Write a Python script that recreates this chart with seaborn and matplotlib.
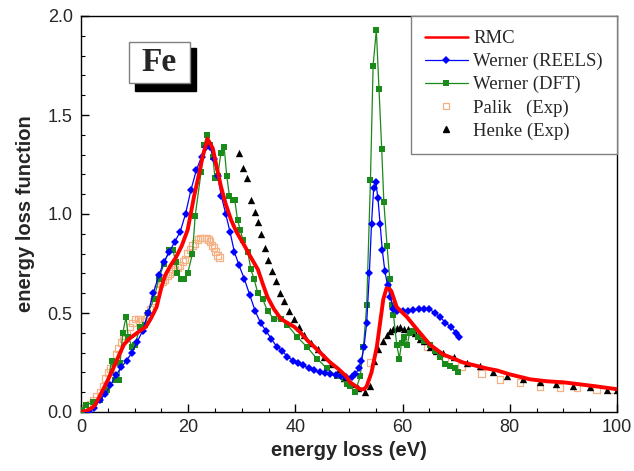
import matplotlib
matplotlib.use("Agg")
import matplotlib.pyplot as plt
import seaborn as sns
from matplotlib.lines import Line2D
from matplotlib.patches import Rectangle
from matplotlib.ticker import MultipleLocator, FormatStrFormatter
from matplotlib.font_manager import FontProperties

# ---------------- data ----------------
rmc_x = [0, 1, 2, 2.6, 3.5, 4.8, 6, 7.3, 8, 9, 10, 11, 12.1, 13, 14.1, 15, 15.7, 16.7,
         17.7, 18.8, 19.9, 21.1, 22, 22.7, 23.6, 24.6, 25.3, 26.1, 27, 28, 29, 30.5,
         31.5, 33, 34, 34.8, 36, 37.3, 38.5, 39.8, 41, 42.3, 43.5, 45, 46.5, 47.9, 49.5,
         50.2, 51, 52.1, 52.8, 53.3, 54.2, 55.2, 55.8, 56.4, 57.0, 57.6, 57.9, 58.9,
         60.8, 62.6, 65.1, 67.6, 69.5, 71.3, 75.7, 77.6, 80, 83.8, 87, 90, 93, 96, 100]
rmc_y = [0.0, 0.005, 0.02, 0.035, 0.08, 0.15, 0.22, 0.30, 0.34, 0.37, 0.39, 0.41, 0.43,
         0.47, 0.53, 0.63, 0.69, 0.74, 0.78, 0.84, 0.92, 1.09, 1.20, 1.29, 1.38, 1.33,
         1.24, 1.14, 1.05, 0.97, 0.91, 0.84, 0.79, 0.72, 0.64, 0.58, 0.52, 0.47, 0.45,
         0.43, 0.40, 0.36, 0.33, 0.29, 0.25, 0.22, 0.18, 0.15, 0.135, 0.115, 0.115, 0.13,
         0.20, 0.33, 0.45, 0.57, 0.625, 0.62, 0.61, 0.53, 0.48, 0.42, 0.34, 0.29, 0.27,
         0.25, 0.22, 0.21, 0.19, 0.165, 0.155, 0.15, 0.14, 0.13, 0.115]

reels_x = [1.5, 2.5, 3.5, 4.5, 5.5, 6.5, 7.5, 8.5, 9.5, 10.5, 11.5, 12.5, 13.5, 14.5,
           15.5, 16.5, 17.5, 18.5, 19.5, 20.5, 21.5, 22.5, 23.3, 24.0, 24.8, 25.5, 26.2,
           27.0, 27.8, 28.6, 29.5, 30.5, 31.5, 32.5, 33.5, 34.5, 35.5, 36.5, 37.5, 38.5,
           39.5, 40.5, 41.5, 42.5, 43.5, 44.5, 45.5, 46.5, 47.5, 48.5, 49.5, 50.5, 51.2,
           51.8, 52.3, 52.8, 53.3, 53.8, 54.2, 54.6, 55.0, 55.4, 55.8, 56.2, 56.7, 57.2,
           57.7, 58.3, 59.0, 60.0, 61.0, 62.0, 63.0, 64.0, 65.0, 66.0, 67.0, 68.0, 69.0,
           70.0, 70.6]
reels_y = [0.0, 0.02, 0.06, 0.09, 0.135, 0.185, 0.225, 0.26, 0.30, 0.355, 0.41, 0.50,
           0.60, 0.69, 0.76, 0.81, 0.86, 0.91, 1.00, 1.12, 1.22, 1.29, 1.34, 1.34, 1.28,
           1.19, 1.09, 1.00, 0.91, 0.81, 0.74, 0.67, 0.59, 0.51, 0.45, 0.41, 0.37, 0.33,
           0.31, 0.28, 0.26, 0.25, 0.235, 0.22, 0.21, 0.20, 0.195, 0.19, 0.185, 0.18,
           0.175, 0.175, 0.19, 0.22, 0.26, 0.33, 0.45, 0.70, 0.95, 1.13, 1.16, 1.08, 0.95,
           0.82, 0.71, 0.64, 0.58, 0.52, 0.51, 0.51, 0.51, 0.515, 0.52, 0.52, 0.52, 0.50,
           0.48, 0.45, 0.43, 0.40, 0.38]

dft_x = [0.1, 0.9, 2.3, 3.5, 4.8, 5.7, 6.3, 7.0, 7.3, 7.8, 8.4, 8.8, 9.5, 10.1, 11.0,
         12.0, 12.5, 13.6, 14.5, 15.5, 16.5, 17.1, 17.7, 18.0, 18.7, 19.3, 19.9, 20.8,
         21.3, 22.4, 23.0, 23.5, 24.1, 24.6, 25.0, 25.5, 26.1, 26.7, 27.2, 27.7, 28.3,
         28.7, 29.2, 29.7, 30.2, 31.1, 31.7, 32.3, 33.0, 33.9, 34.8, 36.0, 37.3, 38.5,
         40.3, 42.1, 44.0, 45.9, 47.8, 49.7, 50.2, 51.1, 52.1, 52.7, 53.3, 54.0, 54.5,
         55.1, 55.6, 56.1, 56.5, 57.1, 57.6, 58.0, 58.3, 58.9, 59.4, 59.8, 60.3, 60.9,
         61.3, 61.9, 62.8, 63.9, 65.1, 66.0, 67.0, 67.9, 68.8, 69.8, 70.4]
dft_y = [0.01, 0.035, 0.05, 0.06, 0.11, 0.26, 0.16, 0.16, 0.25, 0.40, 0.48, 0.38, 0.33,
         0.34, 0.43, 0.44, 0.50, 0.57, 0.67, 0.75, 0.82, 0.82, 0.76, 0.70, 0.67, 0.67,
         0.70, 0.80, 0.99, 1.21, 1.35, 1.40, 1.35, 1.29, 1.18, 1.19, 1.31, 1.34, 1.19,
         1.09, 1.07, 1.07, 0.97, 0.92, 0.87, 0.81, 0.72, 0.67, 0.60, 0.57, 0.51, 0.47,
         0.47, 0.44, 0.38, 0.33, 0.27, 0.22, 0.18, 0.14, 0.13, 0.10, 0.18, 0.33, 0.54,
         1.17, 1.75, 1.93, 1.63, 1.33, 1.06, 0.84, 0.67, 0.54, 0.49, 0.34, 0.27, 0.35,
         0.38, 0.34, 0.40, 0.41, 0.38, 0.36, 0.34, 0.31, 0.28, 0.24, 0.23, 0.22, 0.20]

palik_x = [0.4, 1.0, 1.7, 2.3, 2.9, 3.5, 4.1, 4.6, 5.0, 5.5, 6.0, 6.5, 7.0, 7.5, 7.9,
           8.5, 9.1, 9.6, 10.1, 10.6, 11.0, 11.5, 11.9, 12.4, 12.9, 13.4, 13.8, 14.3,
           14.7, 15.2, 15.7, 16.2, 16.6, 17.1, 17.5, 18.0, 18.5, 19.0, 19.4, 19.9, 20.3,
           20.8, 21.3, 21.8, 22.2, 22.6, 23.0, 23.4, 23.8, 24.1, 24.4, 24.8, 25.1, 25.5,
           25.8, 53.9, 64.6, 67.9, 71.0, 74.7, 78.2, 81.9, 85.6, 89.4, 92.5, 96.2, 99.0]
palik_y = [0.02, 0.03, 0.04, 0.06, 0.08, 0.10, 0.13, 0.17, 0.20, 0.22, 0.25, 0.29, 0.32,
           0.35, 0.37, 0.40, 0.43, 0.45, 0.47, 0.47, 0.47, 0.46, 0.46, 0.49, 0.52, 0.56,
           0.59, 0.62, 0.65, 0.66, 0.67, 0.69, 0.70, 0.71, 0.72, 0.73, 0.74, 0.76, 0.77,
           0.80, 0.82, 0.84, 0.85, 0.87, 0.88, 0.88, 0.88, 0.88, 0.87, 0.86, 0.84, 0.83,
           0.81, 0.79, 0.78, 0.25, 0.33, 0.27, 0.23, 0.195, 0.165, 0.15, 0.13, 0.125,
           0.12, 0.11, 0.11]

henke_x = [29.5, 30.3, 30.9, 31.8, 32.5, 33.0, 33.6, 34.3, 34.8, 35.7, 36.4, 37.2, 37.9,
           38.8, 39.8, 40.7, 41.6, 42.9, 44.2, 45.4, 46.6, 47.9, 49.1, 50.4, 51.7, 53.0,
           53.9, 54.6, 55.5, 56.3, 57.0, 57.7, 58.3, 59.0, 59.6, 60.3, 61.0, 61.7, 62.4,
           63.2, 63.9, 65.1, 66.3, 67.6, 69.5, 72.0, 74.4, 76.9, 79.4, 82.5, 85.6, 88.7,
           91.8, 95.0, 98.1, 100.0]
henke_y = [1.31, 1.23, 1.18, 1.07, 1.01, 0.96, 0.90, 0.83, 0.77, 0.71, 0.66, 0.60, 0.56,
           0.51, 0.47, 0.43, 0.39, 0.35, 0.32, 0.28, 0.24, 0.20, 0.17, 0.14, 0.12, 0.10,
           0.13, 0.26, 0.32, 0.36, 0.39, 0.41, 0.42, 0.425, 0.43, 0.42, 0.42, 0.41, 0.40,
           0.37, 0.36, 0.33, 0.31, 0.30, 0.28, 0.25, 0.23, 0.20, 0.18, 0.165, 0.15, 0.14,
           0.13, 0.125, 0.11, 0.11]

labels = ["RMC", "Werner (REELS)", "Werner (DFT)", "Palik   (Exp)", "Henke (Exp)"]

# ---------------- style ----------------
sns.set_style("ticks")
plt.rcParams['font.family'] = ['Liberation Sans', 'DejaVu Sans']

RED = "#ff0000"
BLUE = "#0000ff"
GREEN = "#1a8a1a"
PALIK = "#f4b183"

fig = plt.figure(figsize=(6.34, 4.71), dpi=100)
ax = fig.add_axes([81 / 634, 1 - 412 / 471, 536 / 634, 396 / 471])

sns.scatterplot(x=palik_x, y=palik_y, ax=ax, marker="s", s=22, facecolor="none",
                edgecolor=PALIK, linewidth=0.9, zorder=2)
sns.scatterplot(x=henke_x, y=henke_y, ax=ax, marker="^", s=28, color="black",
                edgecolor="black", linewidth=0, zorder=3)
sns.lineplot(x=dft_x, y=dft_y, ax=ax, color=GREEN, lw=0.9, marker="s", markersize=4.2,
             markeredgewidth=0, estimator=None, sort=False, zorder=4)
sns.lineplot(x=reels_x, y=reels_y, ax=ax, color=BLUE, lw=0.9, marker="D", markersize=4.5,
             markeredgewidth=0, estimator=None, sort=False, zorder=5)
sns.lineplot(x=rmc_x, y=rmc_y, ax=ax, color=RED, lw=2.8, estimator=None, sort=False,
             zorder=6)

ax.set_xlim(0, 100)
ax.set_ylim(0, 2.0)
ax.xaxis.set_major_locator(MultipleLocator(20))
ax.xaxis.set_minor_locator(MultipleLocator(5))
ax.yaxis.set_major_locator(MultipleLocator(0.5))
ax.yaxis.set_minor_locator(MultipleLocator(0.1))
ax.yaxis.set_major_formatter(FormatStrFormatter("%.1f"))
ax.tick_params(which="both", direction="in", top=False, right=False, color="black")
ax.tick_params(which="major", length=6, width=1, labelsize=13, pad=5)
ax.tick_params(which="minor", length=3, width=0.8)
ax.tick_params(axis="y", which="major", pad=6)
for sp in ax.spines.values():
    sp.set_visible(True)
    sp.set_color("black")
    sp.set_linewidth(1.0)

ax.set_xlabel("energy loss (eV)", fontsize=14.5, fontweight="bold", labelpad=4)
ax.set_ylabel("energy loss function", fontsize=14.5, fontweight="bold", labelpad=9)

# Fe label with shadow
ax.add_patch(Rectangle((0.101, 0.811), 0.114, 0.108, transform=ax.transAxes,
                       facecolor="black", edgecolor="black", zorder=8, clip_on=False))
ax.add_patch(Rectangle((0.090, 0.830), 0.113, 0.105, transform=ax.transAxes,
                       facecolor="white", edgecolor="#808080", lw=1.0, zorder=9,
                       clip_on=False))
ax.text(0.1465, 0.882, "Fe", transform=ax.transAxes, ha="center", va="center",
        fontsize=24, fontweight="bold", family=["Liberation Serif", "DejaVu Serif"],
        zorder=10)

# legend
handles = [
    Line2D([], [], color=RED, lw=1.8),
    Line2D([], [], color=BLUE, lw=0.9, marker="D", markersize=4, markeredgewidth=0),
    Line2D([], [], color=GREEN, lw=0.9, marker="s", markersize=4, markeredgewidth=0),
    Line2D([], [], ls="none", marker="s", markersize=4.5, markerfacecolor="none",
           markeredgecolor=PALIK, markeredgewidth=0.9),
    Line2D([], [], ls="none", marker="^", markersize=5, color="black"),
]
leg = ax.legend(handles, labels, loc="upper right", borderaxespad=0, frameon=True,
                fancybox=False, edgecolor="#808080", framealpha=1,
                prop=FontProperties(family="Liberation Serif", size=13.5),
                handlelength=2.3, handletextpad=0.3, labelspacing=0.31,
                borderpad=0.75)
leg.get_frame().set_linewidth(1.0)
leg.set_zorder(11)

fig.savefig("out.png", dpi=100)
